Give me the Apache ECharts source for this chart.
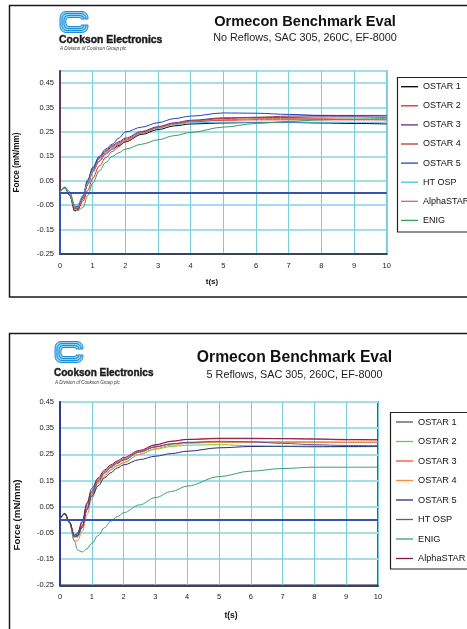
<!DOCTYPE html>
<html>
<head>
<meta charset="utf-8">
<script src="https://cdn.jsdelivr.net/npm/echarts@6/dist/echarts.min.js"></script>
<style>
html,body{margin:0;padding:0;background:#fff;}
#c{width:467px;height:629px;}
</style>
</head>
<body>
<div id="c"></div>
<script>
// ---------- DATA ----------
const times = [0, 0.15, 0.3, 0.45, 0.55, 0.7, 0.85, 1, 1.2, 1.4, 1.6, 1.8, 2, 2.5, 3, 3.5, 4, 5, 6, 7, 8, 9, 10];
const yTicks = ['-0.25', '-0.15', '-0.05', '0.05', '0.15', '0.25', '0.35', '0.45'];
const xTicks = ['0','1','2','3','4','5','6','7','8','9','10'];

// Chart 1: No Reflows
const topNames = ['OSTAR 1', 'OSTAR 2', 'OSTAR 3', 'OSTAR 4', 'OSTAR 5', 'HT OSP', 'AlphaSTAR', 'ENIG'];
const topOstar1 = [0.005, 0.022, -0.01, -0.074, -0.068, -0.025, 0.035, 0.088, 0.13, 0.16, 0.18, 0.195, 0.21, 0.24, 0.26, 0.275, 0.283, 0.287, 0.289, 0.289, 0.287, 0.285, 0.283];
const topOstar2 = [0.005, 0.022, -0.006, -0.062, -0.064, -0.035, 0.01, 0.06, 0.11, 0.145, 0.17, 0.19, 0.21, 0.245, 0.268, 0.283, 0.292, 0.298, 0.3, 0.3, 0.3, 0.3, 0.3];
const topOstar3 = [0.005, 0.022, -0.006, -0.06, -0.056, -0.015, 0.05, 0.1, 0.145, 0.175, 0.195, 0.21, 0.225, 0.252, 0.272, 0.288, 0.298, 0.308, 0.31, 0.31, 0.312, 0.312, 0.31];
const topOstar4 = [0.005, 0.022, -0.008, -0.066, -0.062, -0.02, 0.045, 0.095, 0.14, 0.17, 0.19, 0.205, 0.22, 0.25, 0.27, 0.285, 0.295, 0.305, 0.31, 0.315, 0.318, 0.318, 0.318];
const topOstar5 = [0.005, 0.02, -0.01, -0.06, -0.054, -0.01, 0.055, 0.105, 0.15, 0.18, 0.2, 0.225, 0.25, 0.27, 0.288, 0.305, 0.315, 0.328, 0.327, 0.322, 0.318, 0.317, 0.316];
const topHtOsp = [0.005, 0.02, -0.006, -0.05, -0.045, -0.01, 0.04, 0.09, 0.13, 0.16, 0.18, 0.2, 0.215, 0.245, 0.265, 0.28, 0.288, 0.29, 0.29, 0.29, 0.29, 0.29, 0.29];
const topAlpha = [0.005, 0.022, -0.006, -0.06, -0.06, -0.025, 0.035, 0.085, 0.13, 0.165, 0.185, 0.2, 0.215, 0.245, 0.268, 0.283, 0.293, 0.3, 0.305, 0.305, 0.305, 0.302, 0.3];
const topEnig = [0.005, 0.025, 0.005, -0.05, -0.072, -0.06, -0.01, 0.04, 0.09, 0.125, 0.15, 0.165, 0.18, 0.2, 0.218, 0.235, 0.248, 0.27, 0.285, 0.293, 0.3, 0.303, 0.305];
const topColors = ['#000000', '#ff1a1a', '#6a2a88', '#a23c3c', '#2a44b0', '#45c3ee', '#c87060', '#3a9a60'];

// Chart 2: 5 Reflows
const botNames = ['OSTAR 1', 'OSTAR 2', 'OSTAR 3', 'OSTAR 4', 'OSTAR 5', 'HT OSP', 'ENIG', 'AlphaSTAR'];
const botOstar1 = [0.003, 0.024, -0.01, -0.06, -0.055, -0.01, 0.06, 0.11, 0.155, 0.185, 0.205, 0.22, 0.232, 0.26, 0.28, 0.29, 0.295, 0.297, 0.297, 0.297, 0.297, 0.296, 0.296];
const botOstar2 = [0.003, 0.024, -0.008, -0.062, -0.065, -0.03, 0.04, 0.095, 0.14, 0.17, 0.192, 0.208, 0.22, 0.25, 0.27, 0.28, 0.285, 0.287, 0.283, 0.28, 0.278, 0.279, 0.28];
const botOstar3 = [0.003, 0.024, -0.01, -0.06, -0.06, -0.02, 0.05, 0.105, 0.15, 0.18, 0.2, 0.218, 0.232, 0.262, 0.285, 0.3, 0.307, 0.312, 0.312, 0.31, 0.308, 0.305, 0.305];
const botOstar4 = [0.003, 0.024, -0.015, -0.08, -0.08, -0.045, 0.02, 0.08, 0.13, 0.165, 0.19, 0.205, 0.218, 0.25, 0.272, 0.285, 0.292, 0.296, 0.296, 0.296, 0.296, 0.296, 0.296];
const botOstar5 = [0.003, 0.024, -0.01, -0.065, -0.06, -0.025, 0.04, 0.09, 0.13, 0.16, 0.18, 0.198, 0.21, 0.23, 0.243, 0.253, 0.262, 0.275, 0.28, 0.281, 0.281, 0.28, 0.28];
const botHtOsp = [0.003, 0.024, -0.01, -0.065, -0.065, -0.03, 0.04, 0.1, 0.145, 0.178, 0.2, 0.215, 0.228, 0.258, 0.278, 0.29, 0.296, 0.3, 0.298, 0.292, 0.287, 0.284, 0.283];
const botEnig = [0.003, 0.022, -0.01, -0.08, -0.115, -0.123, -0.11, -0.09, -0.06, -0.03, -0.005, 0.012, 0.027, 0.057, 0.085, 0.108, 0.129, 0.165, 0.186, 0.196, 0.201, 0.201, 0.201];
const botAlpha = [0.003, 0.024, -0.008, -0.058, -0.05, -0.005, 0.065, 0.12, 0.16, 0.19, 0.21, 0.225, 0.238, 0.265, 0.287, 0.3, 0.307, 0.31, 0.31, 0.31, 0.309, 0.307, 0.306];
const botColors = ['#555555', '#6ccc3a', '#ff4646', '#ff8a40', '#2c2c7a', '#5a5aa0', '#3aa070', '#801848'];

const topValues = [topOstar1, topOstar2, topOstar3, topOstar4, topOstar5, topHtOsp, topAlpha, topEnig];
const botValues = [botOstar1, botOstar2, botOstar3, botOstar4, botOstar5, botHtOsp, botEnig, botAlpha];

// ---------- CHART ----------
const FONT = '"Liberation Sans", Arial, sans-serif';
const chart = echarts.init(document.getElementById('c'), null, {renderer: 'canvas'});

function pairs(vals) { return times.map((t, i) => [t, vals[i]]); }

function makeSeries(names, values, colors, gi, extraMark) {
  return names.map((n, i) => {
    const s = {
      type: 'line', name: n, xAxisIndex: gi, yAxisIndex: gi,
      data: pairs(values[i]), symbol: 'none', smooth: 0.35, smoothMonotone: 'x',
      lineStyle: {color: colors[i], width: 1}, itemStyle: {color: colors[i]},
      silent: true, animation: false, z: 3
    };
    if (i === 0) {
      s.markLine = {
        silent: true, symbol: 'none', animation: false, label: {show: false},
        lineStyle: {color: '#3553b5', width: 2, type: 'solid'},
        data: [{yAxis: 0}].concat(extraMark || [])
      };
    }
    return s;
  });
}

function logo(x, y) {
  const c = '#1f8fd6';
  return [
    {type: 'rect', shape: {x: x, y: y, width: 28, height: 21, r: 6}, style: {fill: '#8fd0f3', stroke: c, lineWidth: 1}},
    {type: 'rect', shape: {x: x + 2, y: y + 2, width: 24, height: 17, r: 5}, style: {fill: 'none', stroke: c, lineWidth: 1}},
    {type: 'rect', shape: {x: x + 4, y: y + 4, width: 20, height: 13, r: 4}, style: {fill: 'none', stroke: c, lineWidth: 1}},
    {type: 'rect', shape: {x: x + 6, y: y + 6, width: 16, height: 9, r: 3}, style: {fill: '#fff', stroke: c, lineWidth: 1}},
    {type: 'rect', shape: {x: x + 13, y: y + 7.5, width: 16, height: 6}, style: {fill: '#fff', stroke: 'none'}},
    {type: 'line', shape: {x1: x + 21, y1: y + 7.5, x2: x + 28, y2: y + 7.5}, style: {stroke: c, lineWidth: 1}},
    {type: 'line', shape: {x1: x + 21, y1: y + 13.5, x2: x + 28, y2: y + 13.5}, style: {stroke: c, lineWidth: 1}}
  ];
}

function tick(v) {
  const s = v.toFixed(2);
  return yTicks.indexOf(s) >= 0 ? s : '';
}
function xtick(v) {
  const s = String(Math.round(v));
  return xTicks.indexOf(s) >= 0 ? s : '';
}

function axes(gi, ymax, yAxisColor) {
  return {
    x: {
      type: 'value', gridIndex: gi, min: 0, max: 10, interval: 1,
      axisLine: {show: true, onZero: false, lineStyle: {color: '#3c4650', width: 2}},
      axisTick: {show: false},
      axisLabel: {fontSize: 7.5, color: '#222', margin: 8, fontFamily: FONT, formatter: xtick},
      splitLine: {show: true, lineStyle: {color: '#78cddb', width: 1}}
    },
    y: {
      type: 'value', gridIndex: gi, min: -0.25, max: ymax, interval: 0.1,
      axisLine: {show: true, lineStyle: {color: yAxisColor, width: 2}},
      axisTick: {show: false},
      axisLabel: {fontSize: 7.5, color: '#222', margin: 6, fontFamily: FONT, formatter: tick},
      splitLine: {show: true, lineStyle: {color: '#a5dde8', width: 2}}
    }
  };
}

const a0 = axes(0, 0.5, '#5e3a5e');
const a1 = axes(1, 0.45, '#2a3c94');

function legendData(names, colors) {
  return names.map((n, i) => ({name: n, icon: 'rect', itemStyle: {color: colors[i], borderWidth: 0}}));
}

const option = {
  backgroundColor: '#fff',
  animation: false,
  textStyle: {fontFamily: FONT},
  title: [
    {text: 'Ormecon Benchmark Eval', left: 305, top: 14.5, textAlign: 'center', padding: 0,
     textStyle: {fontSize: 14.6, fontWeight: 'bold', color: '#111', fontFamily: FONT}},
    {text: 'No Reflows, SAC 305, 260C, EF-8000', left: 305, top: 33, textAlign: 'center', padding: 0,
     textStyle: {fontSize: 10.8, fontWeight: 'normal', color: '#222', fontFamily: FONT}},
    {text: 'Ormecon Benchmark Eval', left: 294.5, top: 350, textAlign: 'center', padding: 0,
     textStyle: {fontSize: 15.7, fontWeight: 'bold', color: '#111', fontFamily: FONT}},
    {text: '5 Reflows, SAC 305, 260C, EF-8000', left: 294.5, top: 369.5, textAlign: 'center', padding: 0,
     textStyle: {fontSize: 10.8, fontWeight: 'normal', color: '#222', fontFamily: FONT}}
  ],
  legend: [
    {data: legendData(topNames, topColors), orient: 'vertical', left: 401, top: 81.7, padding: 0,
     itemWidth: 17, itemHeight: 1.3, itemGap: 9.1, selectedMode: false,
     textStyle: {fontSize: 9, lineHeight: 10, color: '#111', fontFamily: FONT}},
    {data: legendData(botNames, botColors), orient: 'vertical', left: 396, top: 417, padding: 0,
     itemWidth: 17, itemHeight: 1.3, itemGap: 9.5, selectedMode: false,
     textStyle: {fontSize: 9.2, lineHeight: 10, color: '#111', fontFamily: FONT}}
  ],
  grid: [
    {left: 60, top: 71, right: 80.3, bottom: 375, show: true, borderColor: '#6a6a6a', borderWidth: 1.5, containLabel: false},
    {left: 60, top: 402, right: 89, bottom: 43.7, show: true, borderColor: '#1e2050', borderWidth: 1.5, containLabel: false}
  ],
  xAxis: [a0.x, a1.x],
  yAxis: [a0.y, a1.y],
  series: makeSeries(topNames, topValues, topColors, 0,
      [[{coord: [0, -0.25]}, {coord: [0, 0]}]])
    .concat(makeSeries(botNames, botValues, botColors, 1)),
  graphic: [
    {type: 'rect', silent: true, z: 0, shape: {x: 9.5, y: 5.5, width: 470, height: 291.5}, style: {fill: 'none', stroke: '#1a1a1a', lineWidth: 1.5}},
    {type: 'rect', silent: true, z: 0, shape: {x: 9.5, y: 333.5, width: 470, height: 310}, style: {fill: 'none', stroke: '#1a1a1a', lineWidth: 1.5}},
    {type: 'rect', silent: true, z: 0, shape: {x: 397.5, y: 77.5, width: 80, height: 154.5}, style: {fill: 'none', stroke: '#222', lineWidth: 1.2}},
    {type: 'rect', silent: true, z: 0, shape: {x: 390.5, y: 412.5, width: 85, height: 156.5}, style: {fill: 'none', stroke: '#222', lineWidth: 1.2}},
    {type: 'group', silent: true, children: logo(60, 11.5)},
    {type: 'group', silent: true, children: logo(55, 341.5)},
    {type: 'text', silent: true, style: {text: 'Cookson Electronics', x: 59, y: 40, verticalAlign: 'middle', font: 'bold 10.4px ' + FONT, fill: '#1a1a1a', stroke: '#1a1a1a', lineWidth: 0.4}},
    {type: 'text', silent: true, style: {text: 'A Division of Cookson Group plc', x: 60, y: 48.5, verticalAlign: 'middle', font: 'italic 4.6px ' + FONT, fill: '#333'}},
    {type: 'text', silent: true, style: {text: 'Cookson Electronics', x: 54, y: 373.3, verticalAlign: 'middle', font: 'bold 10px ' + FONT, fill: '#1a1a1a', stroke: '#1a1a1a', lineWidth: 0.4}},
    {type: 'text', silent: true, style: {text: 'A Division of Cookson Group plc', x: 55, y: 382.7, verticalAlign: 'middle', font: 'italic 4.5px ' + FONT, fill: '#333'}},
    {type: 'text', silent: true, x: 16.5, y: 162.5, rotation: Math.PI / 2,
     style: {text: 'Force (mN/mm)', align: 'center', verticalAlign: 'middle', font: 'bold 8.2px ' + FONT, fill: '#111'}},
    {type: 'text', silent: true, style: {text: 't(s)', x: 212, y: 282, align: 'center', verticalAlign: 'middle', font: 'bold 8px ' + FONT, fill: '#111'}},
    {type: 'text', silent: true, x: 17, y: 515, rotation: Math.PI / 2,
     style: {text: 'Force (mN/mm)', align: 'center', verticalAlign: 'middle', font: 'bold 9.7px ' + FONT, fill: '#111'}},
    {type: 'text', silent: true, style: {text: 't(s)', x: 231, y: 616, align: 'center', verticalAlign: 'middle', font: 'bold 8.5px ' + FONT, fill: '#111'}}
  ]
};
chart.setOption(option);
</script>
</body>
</html>
